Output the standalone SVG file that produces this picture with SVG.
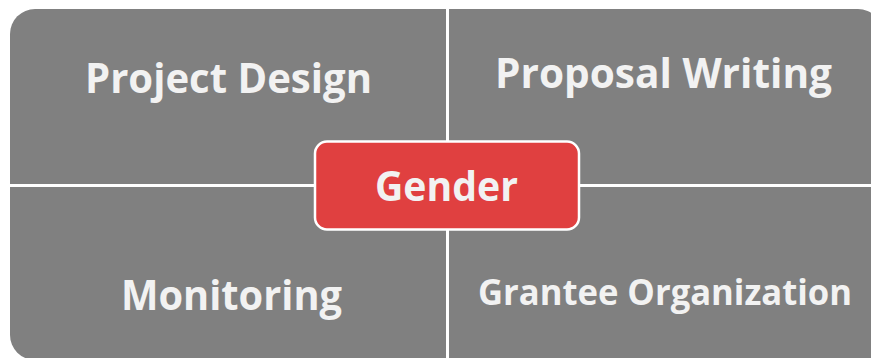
<svg xmlns="http://www.w3.org/2000/svg" width="871" height="358" viewBox="0 0 871 358">
<style>
.q{fill:#808080}
.t{font-family:"Open Sans","Noto Sans","Liberation Sans",sans-serif;font-weight:bold;fill:#F2F2F2;text-anchor:middle}
</style>
<rect width="871" height="358" fill="#FFFFFF"/>
<g id="project-design">
<path class="q" d="M10,34 A25,25 0 0 1 35,9 L446,9 L446,184 L10,184 Z"/>
<text class="t" x="228.5" y="93" font-size="41" textLength="287" lengthAdjust="spacingAndGlyphs">Project Design</text>
</g>
<g id="proposal-writing">
<path class="q" d="M449,9 L858,9 A25,25 0 0 1 883,34 L883,184 L449,184 Z"/>
<text class="t" x="663.5" y="88" font-size="41" textLength="337" lengthAdjust="spacingAndGlyphs">Proposal Writing</text>
</g>
<g id="monitoring">
<path class="q" d="M10,187 L446,187 L446,360 L35,360 A25,25 0 0 1 10,335 Z"/>
<text class="t" x="231.5" y="310" font-size="41" textLength="221" lengthAdjust="spacingAndGlyphs">Monitoring</text>
</g>
<g id="grantee-organization">
<path class="q" d="M449,187 L883,187 L883,360 L449,360 Z"/>
<text class="t" x="665" y="305" font-size="35" textLength="374" lengthAdjust="spacingAndGlyphs">Grantee Organization</text>
</g>
<g id="gender">
<rect x="315" y="141.5" width="264" height="88" rx="12" fill="#E04040" stroke="#FFFFFF" stroke-width="2.5"/>
<text class="t" x="446.5" y="201" font-size="41" textLength="143" lengthAdjust="spacingAndGlyphs">Gender</text>
</g>
<g id="connectors"></g>
</svg>
